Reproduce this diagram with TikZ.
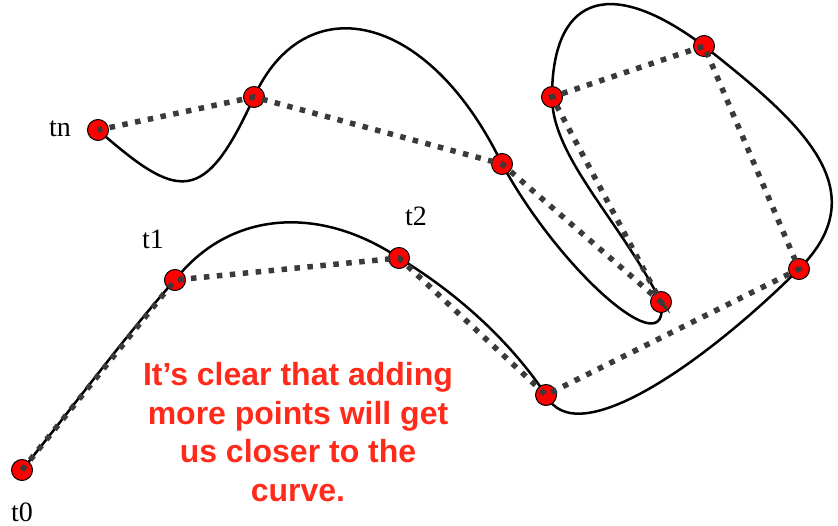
\documentclass[tikz,border=0pt]{standalone}
\usepackage{fontspec}
\setmainfont{Liberation Serif}
\newfontfamily\arialfont{Liberation Sans}
\usetikzlibrary{backgrounds}
\definecolor{ptred}{RGB}{255,0,0}
\definecolor{notered}{RGB}{255,42,26}
\definecolor{chordgray}{RGB}{58,58,58}
\tikzset{point/.style = {shape = circle, draw, fill = ptred, line width = 1pt, minimum size = 21pt, inner sep = 0pt}}
\tikzset{chord/.style = {draw = chordgray, line width = 5.5pt, dash pattern = on 5.5pt off 7.5pt}}
\tikzset{splineline/.style = {line width = 2.5pt}}
\tikzset{tlabel/.style = {anchor = base, inner sep = 0pt, font = \fontsize{28}{30}\selectfont}}
\tikzset{note/.style = {align = center, inner sep = 0pt, text = notered, font = \arialfont\bfseries\fontsize{32}{38.5}\selectfont}}

\begin{document}
\begin{tikzpicture}[x = 1pt, y = -1pt]
	\useasboundingbox (0, 0) rectangle (838, 526);

	\node[point] (t0) at (22, 470) {};
	\node[point] (t1) at (175, 280) {};
	\node[point] (t2) at (399, 258) {};
	\node[point] (p3) at (546, 395) {};
	\node[point] (p4) at (799, 269) {};
	\node[point] (p5) at (704, 46) {};
	\node[point] (p6) at (552, 97) {};
	\node[point] (p7) at (661, 302) {};
	\node[point] (p8) at (502, 164) {};
	\node[point] (p9) at (254, 97) {};
	\node[point] (tn) at (98, 130) {};

	\node[tlabel] (l0) at (22, 521) {t0};
	\node[tlabel] (l1) at (153, 249) {t1};
	\node[tlabel] (l2) at (416, 226) {t2};
	\node[tlabel] (ln) at (60, 137) {tn};

	\node[note] (msg) at (298, 432) {It’s clear that adding\\more points will get\\us closer to the\\curve.};

	\draw[chord] (t0.center) -- (t1.center) -- (t2.center) -- (p3.center) -- (p4.center) -- (p5.center)
		-- (p6.center) -- (p7.center) -- (p8.center) -- (p9.center) -- (tn.center);

	% the curve sits under the points
	\begin{scope}[on background layer]
		\draw[splineline] (t0.center) .. controls +(51, -63) and +(-45, 50) .. (t1.center)
			.. controls +(55, -70) and +(-79, -53) .. (t2.center)
			.. controls +(50, 30) and +(-40, -60) .. (p3.center)
			.. controls +(30, 60) and +(-90, 90) .. (p4.center)
			.. controls +(80, -80) and +(95, 75) .. (p5.center)
			.. controls +(-100, -75) and +(0, -95) .. (p6.center)
			.. controls +(0, 60) and +(-40, -80) .. (p7.center)
			.. controls +(10, 65) and +(60, 110) .. (p8.center)
			.. controls +(-75, -155) and +(50, -110) .. (p9.center)
			.. controls +(-50, 110) and +(80, 70) .. (tn.center);
	\end{scope}
\end{tikzpicture}
\end{document}
